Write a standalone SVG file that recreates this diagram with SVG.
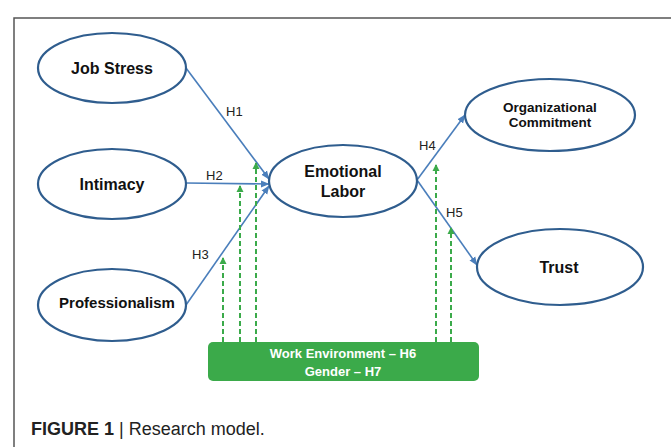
<svg xmlns="http://www.w3.org/2000/svg" width="671" height="447" viewBox="0 0 671 447">
<style>
.node ellipse{fill:#fff;stroke:#2F5D8E;stroke-width:2.2}
.lbl{font-family:"Liberation Sans",Arial,sans-serif;font-weight:bold;fill:#111;text-anchor:middle}
.h{font-family:"Liberation Sans",Arial,sans-serif;font-size:13px;fill:#222}
.blue{stroke:#4A7EBB;stroke-width:1.6;fill:none;marker-end:url(#ab)}
.green{stroke:#3BAA4A;stroke-width:2;stroke-dasharray:5 3;fill:none;marker-end:url(#ag)}
</style>
<defs>
<marker id="ab" markerUnits="userSpaceOnUse" markerWidth="9" markerHeight="8" refX="8" refY="4" orient="auto">
<path d="M0,0.5 L8.5,4 L0,7.5 Z" fill="#4A7EBB"/>
</marker>
<marker id="ag" markerUnits="userSpaceOnUse" markerWidth="8" markerHeight="8" refX="6" refY="4" orient="auto">
<path d="M0,0.5 L7,4 L0,7.5 Z" fill="#3BAA4A"/>
</marker>
</defs>
<rect width="671" height="447" fill="#fff"/>
<path d="M14,447 V18 H671" fill="none" stroke="#555" stroke-width="1.5"/>
<g id="connectors">
<line class="blue" x1="186" y1="68" x2="269" y2="179"/>
<line class="blue" x1="186" y1="183" x2="269" y2="184"/>
<line class="blue" x1="186" y1="305" x2="269" y2="186"/>
<line class="blue" x1="417" y1="180" x2="465" y2="115"/>
<line class="blue" x1="417" y1="180" x2="477" y2="265"/>
<line class="green" x1="223" y1="342" x2="223" y2="258"/>
<line class="green" x1="240" y1="342" x2="240" y2="186"/>
<line class="green" x1="256" y1="342" x2="256" y2="163"/>
<line class="green" x1="436" y1="342" x2="436" y2="165"/>
<line class="green" x1="451" y1="342" x2="451" y2="228"/>
<text class="h" x="226" y="116">H1</text>
<text class="h" x="206" y="180">H2</text>
<text class="h" x="192" y="259">H3</text>
<text class="h" x="419" y="150">H4</text>
<text class="h" x="446" y="217">H5</text>
</g>
<g id="job-stress" class="node"><ellipse cx="112" cy="68" rx="74" ry="35"/><text class="lbl" x="112" y="74" font-size="16">Job Stress</text></g>
<g id="intimacy" class="node"><ellipse cx="112" cy="184" rx="74" ry="35"/><text class="lbl" x="112" y="190" font-size="16">Intimacy</text></g>
<g id="professionalism" class="node"><ellipse cx="112" cy="305" rx="74" ry="36"/><text class="lbl" x="117" y="308" font-size="15">Professionalism</text></g>
<g id="emotional-labor" class="node"><ellipse cx="343" cy="181" rx="74" ry="36"/><text class="lbl" x="343" y="177" font-size="16">Emotional</text><text class="lbl" x="343" y="197" font-size="16">Labor</text></g>
<g id="org-commitment" class="node"><ellipse cx="550" cy="115" rx="85" ry="36"/><text class="lbl" x="550" y="112" font-size="13.5">Organizational</text><text class="lbl" x="550" y="126.5" font-size="13.5">Commitment</text></g>
<g id="trust" class="node"><ellipse cx="560" cy="267" rx="83" ry="38"/><text class="lbl" x="559" y="273" font-size="16">Trust</text></g>
<g id="moderators"><rect x="208" y="342" width="271" height="39" rx="5" fill="#3BAA4A"/>
<text class="lbl" x="343" y="358" font-size="13" style="fill:#fff">Work Environment – H6</text>
<text class="lbl" x="343" y="376" font-size="13" style="fill:#fff">Gender – H7</text></g>
<text x="31" y="435" font-family="Liberation Sans,Arial,sans-serif" font-size="18" fill="#222"><tspan font-weight="bold">FIGURE 1</tspan> | Research model.</text>
</svg>
